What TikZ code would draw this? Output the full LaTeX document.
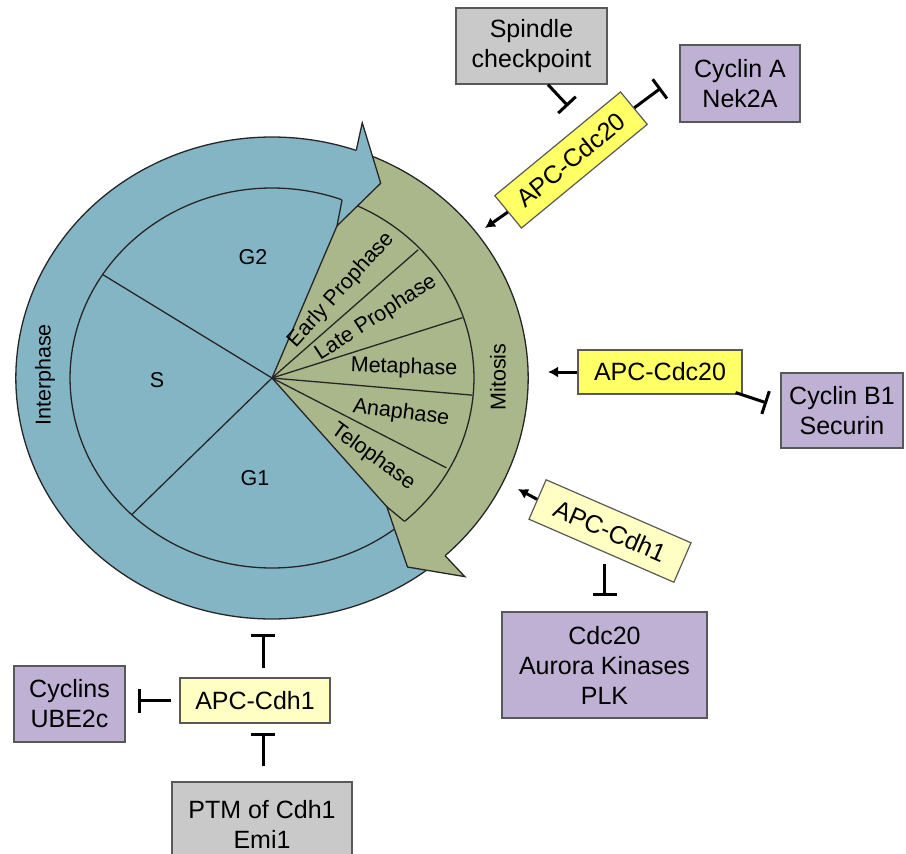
\documentclass[tikz,border=0pt]{standalone}
\usepackage{fontspec}
\setmainfont{Liberation Sans}
\usetikzlibrary{arrows.meta,calc}
\definecolor{cblue}{HTML}{84B5C5}
\definecolor{cgreen}{HTML}{AAB78B}
\definecolor{cpurple}{HTML}{BEB1D3}
\definecolor{cgray}{HTML}{C9C9C9}
\definecolor{cyel}{HTML}{FFFF66}
\definecolor{cpale}{HTML}{FFFFC4}
\begin{document}
\begin{tikzpicture}[x=1pt,y=-1pt,
  ol/.style={draw=black!85, line width=1.3pt, line join=miter},
  lbl/.style={font=\fontsize{21.5}{24}\selectfont, inner sep=0pt},
  box/.style={draw=black!65, line width=1.2pt, align=center, inner sep=0pt, font=\fontsize{25}{30}\selectfont},
  arr/.style={line width=3pt, -{Latex[length=10pt,width=11pt]}},
  inh/.style={line width=3pt, -{Bar[width=24pt]}}]
\useasboundingbox (0,0) rectangle (906,854);

\begin{scope}[shift={(272,378)}, x=1.063pt, y=1pt]
  \fill[cblue] plot[domain=0:360,samples=181] (\x:241) -- cycle;
  \fill[cgreen] (0,0) -- plot[domain=-50:68,samples=80] (\x:241) -- cycle;
  \draw[ol] plot[domain=0:360,samples=241] (\x:241) -- cycle;
  \draw[ol] plot[domain=0:360,samples=241] (\x:190) -- cycle;
  \draw[ol] (0,0) -- (147:190);
  \draw[ol] (0,0) -- (226:190);
  \draw[ol] (0,0) -- (43:188);
  \draw[ol] (0,0) -- (18.6:189);
  \draw[ol] (0,0) -- (-5.2:189);
  \draw[ol] (0,0) -- (-28.7:187);
  \draw[ol] (0,0) -- (68.1:164);
  \draw[ol] (0,0) -- (-50:168);
  % blue arrowhead
  \fill[cblue] (69.7:190) -- (68.1:164) -- (62.3:220) -- (71.6:269) -- (70.8:241) -- cycle;
  \draw[ol] (69.7:190) -- (68.1:164) -- (62.3:220) -- (71.6:269) -- (70.8:241);
  % green arrowhead
  \fill[cgreen] (-49:190) -- (-50:168) -- (-56:228) -- (-47.6:269) -- (-47.5:241) -- cycle;
  \draw[ol] (-49:190) -- (-50:168) -- (-56:228) -- (-47.6:269) -- (-47.5:241);
\end{scope}

% labels in the cycle
\node[lbl] (g2) at (253,257) {G2};
\node[lbl] (s) at (157,380) {S};
\node[lbl] (g1) at (255,478) {G1};
\node[lbl, rotate=90] (inter) at (45,375) {Interphase};
\node[lbl, rotate=90] (mito) at (498,377) {Mitosis};
\node[lbl, rotate=48] (ep) at (341,290) {Early Prophase};
\node[lbl, rotate=33] (lp) at (376,318) {Late Prophase};
\node[lbl, rotate=-2] (meta) at (404,368) {Metaphase};
\node[lbl, rotate=-7.5] (ana) at (401,413) {Anaphase};
\node[lbl, rotate=-36] (telo) at (373,457) {Telophase};

% boxes
\node[box, fill=cgray, minimum width=151pt, minimum height=76pt] (spin) at (531.5,46) {Spindle\\checkpoint};
\node[box, fill=cpurple, minimum width=120pt, minimum height=77pt] (cyca) at (740,83.5) {Cyclin A\\Nek2A};
\node[box, fill=cyel, minimum width=163pt, minimum height=42pt, rotate=39.5] (apc1) at (571,160) {APC-Cdc20};
\node[box, fill=cyel, minimum width=164pt, minimum height=44pt] (apc2) at (660,372) {APC-Cdc20};
\node[box, fill=cpurple, minimum width=122pt, minimum height=75pt] (cycb) at (842,410.5) {Cyclin B1\\Securin};
\node[box, fill=cpale, minimum width=158pt, minimum height=43pt, rotate=-23.5] (apc3) at (610,531) {APC-Cdh1};
\node[box, fill=cpurple, minimum width=205pt, minimum height=106pt] (cdc) at (604.5,665) {Cdc20\\Aurora Kinases\\PLK};
\node[box, fill=cpale, minimum width=150pt, minimum height=45pt] (apc4) at (255,700.5) {APC-Cdh1};
\node[box, fill=cpurple, minimum width=111pt, minimum height=76pt] (cyc) at (69.5,704) {Cyclins\\UBE2c};
\node[box, fill=cgray, minimum width=180pt, minimum height=84pt] (ptm) at (262,824) {PTM of Cdh1\\Emi1};

% free ends
\coordinate (t1) at (568,106);
\coordinate (t2) at (661,88);
\coordinate (m1) at (485,228);
\coordinate (m2) at (548,372);
\coordinate (t3) at (767,403);
\coordinate (m3) at (518,489);
\coordinate (cb) at (263,619);

% connectors
\draw[inh] ($(spin.south)+(16.5,0)$) -- (t1);
\draw[inh] (apc1.east) -- (t2);
\draw[arr] (apc1.west) -- (m1);
\draw[arr] (apc2.west) -- (m2);
\draw[inh] ($(apc2.south east)+(-7,-2)$) -- (t3);
\draw[arr] (apc3.west) -- (m3);
\draw[inh, shorten <=13pt, shorten >=15pt] (apc3.south -| cdc.north) -- (cdc.north);
\draw[inh, shorten <=9pt, shorten >=15pt] (apc4.north -| cb) -- (cb);
\draw[inh, shorten <=8pt, shorten >=12pt] (apc4.west) -- (apc4.west -| cyc.east);
\draw[inh, shorten <=15pt, shorten >=9pt] (ptm.north -| cb) -- (apc4.south -| cb);
\end{tikzpicture}
\end{document}
